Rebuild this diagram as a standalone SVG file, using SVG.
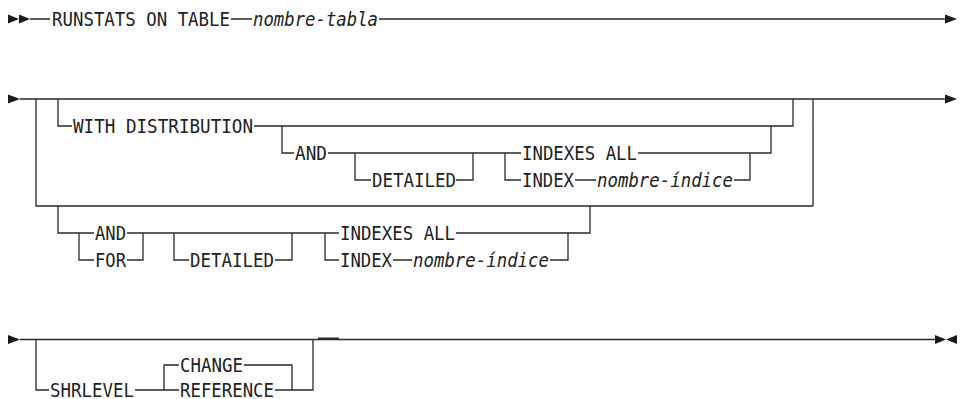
<svg xmlns="http://www.w3.org/2000/svg" width="960" height="399" viewBox="0 0 960 399">
<style>
text{font-family:"DejaVu Sans Mono","Liberation Mono",monospace;font-size:19px;fill:#222}
.v{font-style:italic}
.c path{fill:none;stroke:#2a2a2a;stroke-width:1.3}
.a{fill:#1a1a1a;stroke:none}
</style>
<rect width="960" height="399" fill="#fff"/>
<g id="connectors" class="c">
<path d="M30 19H50 M231 19H252 M379 19H946"/>
<path d="M20 99H945 M36 99V206H813 M813 99V206 M58 99V126H72 M254 126H793V99"/>
<path d="M282 126V153H294 M328 153H521 M355 153V180H371 M456 180H473V153 M505 153V180H521 M638 153H771V126 M575 180H596 M734 180H750V153"/>
<path d="M58 206V233H94 M79 233V260H94 M127 233H143 M127 260H143V233 M143 233H339 M174 233V260H189 M275 260H292V233 M325 233V260H339 M393 260H412 M550 260H568V233 M456 233H590V206"/>
<path d="M20 339.5H935 M36 339.5V390H49 M135 390H179 M164 390V365H179 M244 365H292V390 M275 390H313V339.5"/>
<path d="M318 338.5H339" style="stroke-width:2"/>
</g>
<g id="arrows">
<path class="a" d="M8 14.5L19 19L8 23.5Z M19 14.5L30 19L19 23.5Z"/>
<path class="a" d="M945 14.5L957 19L945 23.5Z"/>
<path class="a" d="M8 94.5L20 99L8 103.5Z"/>
<path class="a" d="M945 94.5L957 99L945 103.5Z"/>
<path class="a" d="M8 335L20 339.5L8 344Z"/>
<path class="a" d="M935 335L946 339.5L935 344Z M957 335L946 339.5L957 344Z"/>
</g>
<g id="n-runstats"><text x="52" y="26" textLength="178" lengthAdjust="spacingAndGlyphs">RUNSTATS ON TABLE</text></g>
<g id="n-nombre-tabla"><text class="v" x="253" y="26" textLength="125" lengthAdjust="spacingAndGlyphs">nombre-tabla</text></g>
<g id="n-with-distribution"><text x="73" y="133" textLength="180" lengthAdjust="spacingAndGlyphs">WITH DISTRIBUTION</text></g>
<g id="n-and-1"><text x="295" y="160" textLength="32" lengthAdjust="spacingAndGlyphs">AND</text></g>
<g id="n-detailed-1"><text x="372" y="187" textLength="84" lengthAdjust="spacingAndGlyphs">DETAILED</text></g>
<g id="n-indexes-all-1"><text x="522" y="160" textLength="115" lengthAdjust="spacingAndGlyphs">INDEXES ALL</text></g>
<g id="n-index-1"><text x="522" y="187" textLength="52" lengthAdjust="spacingAndGlyphs">INDEX</text><text class="v" x="597" y="187" textLength="136" lengthAdjust="spacingAndGlyphs">nombre-índice</text></g>
<g id="n-and-2"><text x="95" y="240" textLength="31" lengthAdjust="spacingAndGlyphs">AND</text></g>
<g id="n-for"><text x="95" y="267" textLength="31" lengthAdjust="spacingAndGlyphs">FOR</text></g>
<g id="n-detailed-2"><text x="190" y="267" textLength="84" lengthAdjust="spacingAndGlyphs">DETAILED</text></g>
<g id="n-indexes-all-2"><text x="340" y="240" textLength="115" lengthAdjust="spacingAndGlyphs">INDEXES ALL</text></g>
<g id="n-index-2"><text x="340" y="267" textLength="52" lengthAdjust="spacingAndGlyphs">INDEX</text><text class="v" x="413" y="267" textLength="136" lengthAdjust="spacingAndGlyphs">nombre-índice</text></g>
<g id="n-shrlevel"><text x="50" y="396.5" textLength="84" lengthAdjust="spacingAndGlyphs">SHRLEVEL</text></g>
<g id="n-change"><text x="180" y="372" textLength="63" lengthAdjust="spacingAndGlyphs">CHANGE</text></g>
<g id="n-reference"><text x="180" y="396.5" textLength="94" lengthAdjust="spacingAndGlyphs">REFERENCE</text></g>
</svg>
